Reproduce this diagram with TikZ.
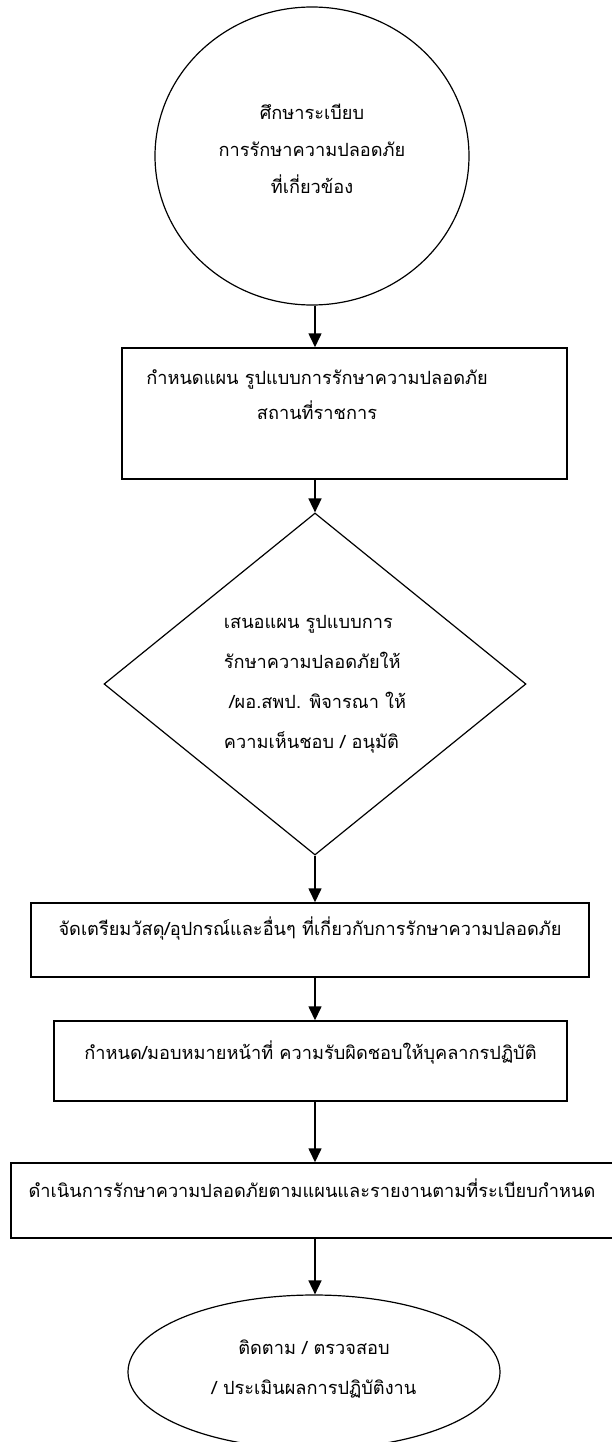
\documentclass[tikz,border=0pt]{standalone}
\usepackage{fontspec}
\newfontfamily\thai[Script=Thai]{Loma}
\usetikzlibrary{shapes.geometric, arrows.meta, positioning}

\begin{document}
\begin{tikzpicture}[x=1pt, y=-1pt,
  box/.style={draw, line width=1.5pt, inner sep=0pt, align=center},
  oval/.style={draw, ellipse, line width=1.2pt, inner sep=0pt, align=center},
  arr/.style={line width=1.6pt, -{Triangle[length=14pt, width=13pt]}},
  font=\thai\fontsize{18.2}{37}\selectfont]
\useasboundingbox (0,0) rectangle (612,1442);
% axis of the arrows
\coordinate (axis) at (315,0);
% start
\node[oval, minimum width=314pt, minimum height=298pt, text depth=14pt] (study) at (312,156)
  {ศึกษาระเบียบ\\การรักษาความปลอดภัย\\ที่เกี่ยวข้อง};
% plan
\node[box, minimum width=445pt, text height=71pt, text depth=60pt,
  font=\thai\fontsize{18.2}{35}\selectfont] (plan) at (344.5,413.5)
  {กำหนดแผน รูปแบบการรักษาความปลอดภัย\hspace*{55pt}\\สถานที่ราชการ\hspace*{55pt}};
% decision
\node[draw, diamond, line width=1.2pt, inner sep=0pt, align=left,
  minimum width=422pt, minimum height=342pt,
  font=\thai\fontsize{18.2}{40}\selectfont] (decide) at (315,684)
  {เสนอแผน รูปแบบการ\\รักษาความปลอดภัยให้\\\hspace*{0.3em}/ผอ.สพป. พิจารณา ให้\\ความเห็นชอบ / อนุมัติ};
% steps
\node[box, minimum width=558pt, text height=32pt, text depth=42pt] (prep) at (310,940)
  {จัดเตรียมวัสดุ/อุปกรณ์และอื่นๆ ที่เกี่ยวกับการรักษาความปลอดภัย};
\node[box, minimum width=513pt, text height=38pt, text depth=42pt] (assign) at (310.5,1061)
  {กำหนด/มอบหมายหน้าที่ ความรับผิดชอบให้บุคลากรปฏิบัติ};
\node[box, minimum width=602pt, text height=34pt, text depth=41pt] (run) at (312,1200.5)
  {ดำเนินการรักษาความปลอดภัยตามแผนและรายงานตามที่ระเบียบกำหนด};
% end
\node[oval, minimum width=372pt, minimum height=154pt, text depth=10pt,
  font=\thai\fontsize{18.2}{40}\selectfont] (check) at (314,1372)
  {ติดตาม / ตรวจสอบ\\/ ประเมินผลการปฏิบัติงาน};
% arrows
\draw[arr] (study.south -| axis) -- (plan.north -| axis);
\draw[arr] (plan.south -| axis) -- (decide.north);
\draw[arr] (decide.south) -- (prep.north -| axis);
\draw[arr] (prep.south -| axis) -- (assign.north -| axis);
\draw[arr] (assign.south -| axis) -- (run.north -| axis);
\draw[arr] (run.south -| axis) -- (check.north -| axis);
\end{tikzpicture}
\end{document}
